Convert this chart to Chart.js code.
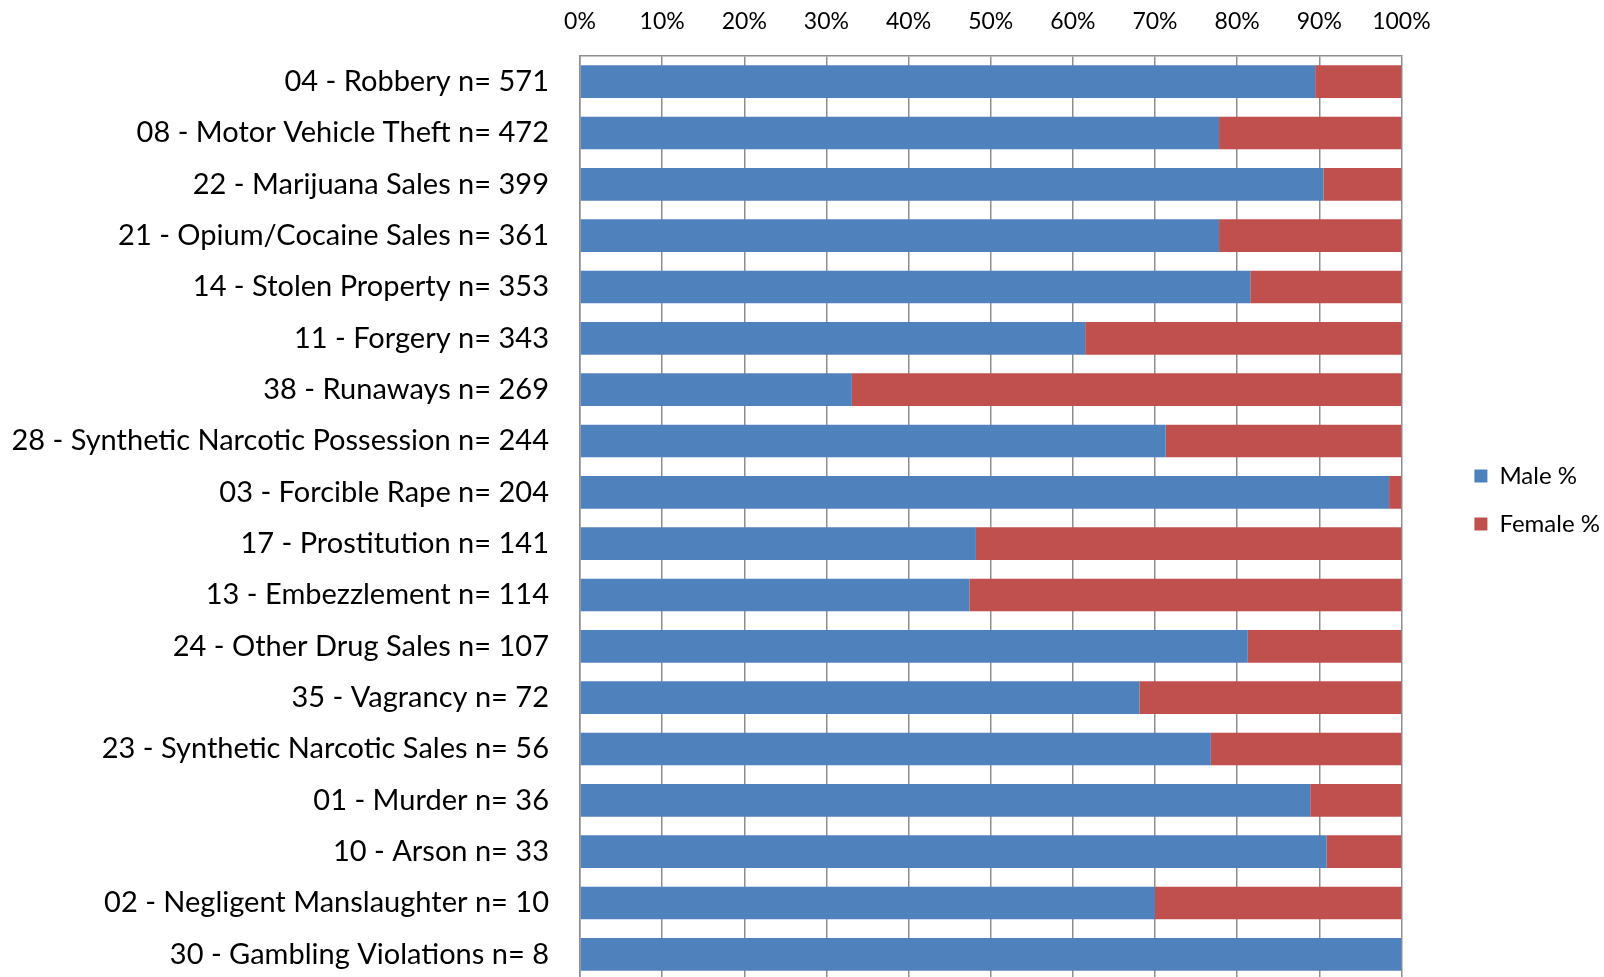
<!DOCTYPE html>
<html>
<head>
<meta charset="utf-8">
<script src="https://cdn.jsdelivr.net/npm/chart.js@4/dist/chart.umd.min.js"></script>
<style>
  html, body { margin: 0; padding: 0; background: #fff; overflow: hidden; }
  #wrap { width: 1604px; height: 980px; }
</style>
</head>
<body>
<div id="wrap"><canvas id="c" width="1604" height="980"></canvas></div>
<script>
const categories = [
  "04 - Robbery n= 571",
  "08 - Motor Vehicle Theft n= 472",
  "22 - Marijuana Sales n= 399",
  "21 - Opium/Cocaine Sales n= 361",
  "14 - Stolen Property n= 353",
  "11 - Forgery n= 343",
  "38 - Runaways n= 269",
  "28 - Synthetic Narcotic Possession n= 244",
  "03 - Forcible Rape n= 204",
  "17 - Prostitution n= 141",
  "13 - Embezzlement n= 114",
  "24 - Other Drug Sales n= 107",
  "35 - Vagrancy n= 72",
  "23 - Synthetic Narcotic Sales n= 56",
  "01 - Murder n= 36",
  "10 - Arson n= 33",
  "02 - Negligent Manslaughter n= 10",
  "30 - Gambling Violations n= 8"
];
const malePct   = [89.5, 77.8, 90.5, 77.8, 81.6, 61.5, 33.1, 71.3, 98.5, 48.2, 47.4, 81.3, 68.1, 76.8, 88.9, 90.9, 70.0, 100];
const femalePct = [10.5, 22.2,  9.5, 22.2, 18.4, 38.5, 66.9, 28.7,  1.5, 51.8, 52.6, 18.7, 31.9, 23.2, 11.1,  9.1, 30.0, 0];
const seriesNames = ["Male %", "Female %"];
const xTicks = [0, 10, 20, 30, 40, 50, 60, 70, 80, 90, 100];

const FONT = "Lato, 'Open Sans', sans-serif";
const gridColor = "#8e8e8e";

new Chart(document.getElementById("c"), {
  type: "bar",
  data: {
    labels: categories,
    datasets: [
      { label: seriesNames[0], data: malePct, backgroundColor: "#4F81BD", borderWidth: 0,
        categoryPercentage: 1, barPercentage: 0.637 },
      { label: seriesNames[1], data: femalePct, backgroundColor: "#C0504D", borderWidth: 0,
        categoryPercentage: 1, barPercentage: 0.637 }
    ]
  },
  options: {
    responsive: false,
    devicePixelRatio: 1,
    animation: false,
    indexAxis: "y",
    layout: { padding: { left: 0, right: -6, top: 0, bottom: 0 } },
    plugins: {
      tooltip: { enabled: false },
      legend: {
        position: "right",
        align: "center",
        title: { display: true, text: " ", font: { size: 10 }, padding: 4 },
        labels: {
          color: "#000",
          font: { family: FONT, size: 24 },
          boxWidth: 13,
          boxHeight: 13,
          padding: 24
        }
      }
    },
    scales: {
      x: {
        position: "top",
        stacked: true,
        min: 0,
        max: 100,
        afterBuildTicks: (s) => { s.ticks = xTicks.map(v => ({ value: v })); },
        afterFit: (s) => { s.height = 56; },
        ticks: {
          color: "#000",
          font: { family: FONT, size: 23 },
          padding: 21,
          maxRotation: 0,
          callback: (v) => v + "%"
        },
        grid: { color: gridColor, lineWidth: 1.5, drawTicks: false },
        border: { color: gridColor, width: 1.5 }
      },
      y: {
        stacked: true,
        afterFit: (s) => { s.width = 580; s.paddingTop = 0; s.paddingBottom = 0; },
        ticks: {
          color: "#000",
          font: { family: FONT, size: 29 },
          padding: 31,
          autoSkip: false
        },
        grid: { display: false, drawTicks: false },
        border: { color: gridColor, width: 1.5 }
      },
      yr: {
        type: "category",
        position: "right",
        display: true,
        afterFit: (s) => { s.width = 49; s.paddingTop = 0; s.paddingBottom = 0; },
        ticks: { display: false },
        grid: { display: false, drawTicks: false },
        border: { display: false }
      }
    }
  }
});
</script>
</body>
</html>
